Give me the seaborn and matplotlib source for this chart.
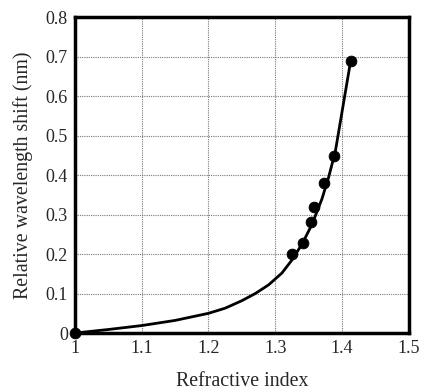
import matplotlib
matplotlib.use("Agg")
import matplotlib.pyplot as plt
import seaborn as sns
import pandas as pd

# measured points
ri_points = [1.0, 1.325, 1.342, 1.354, 1.358, 1.373, 1.388, 1.413]
shift_points = [0.0, 0.20, 0.228, 0.28, 0.318, 0.379, 0.448, 0.69]

# fitted curve
ri_curve = [1.0, 1.05, 1.10, 1.15, 1.20, 1.225, 1.25, 1.27, 1.29, 1.31, 1.325,
            1.34, 1.355, 1.37, 1.38, 1.39, 1.40, 1.413]
shift_curve = [0.0, 0.009, 0.019, 0.032, 0.05, 0.063, 0.082, 0.10, 0.122, 0.152, 0.185,
               0.225, 0.275, 0.34, 0.395, 0.46, 0.56, 0.69]

sns.set_style("white")
plt.rcParams['font.family'] = ['Liberation Serif', 'DejaVu Serif']

fig = plt.figure(figsize=(4.21, 3.9), dpi=100)
ax = fig.add_axes([0.178, 0.146, 0.793, 0.81])

curve = pd.DataFrame({"ri": ri_curve, "shift": shift_curve})
pts = pd.DataFrame({"ri": ri_points, "shift": shift_points})

sns.lineplot(data=curve, x="ri", y="shift", ax=ax, color="black", linewidth=2, sort=False)
sns.scatterplot(data=pts, x="ri", y="shift", ax=ax, color="black", s=60,
                edgecolor="black", zorder=5, clip_on=False)

ax.set_xlim(1.0, 1.5)
ax.set_ylim(0, 0.8)
ax.set_xticks([1.0, 1.1, 1.2, 1.3, 1.4, 1.5])
ax.set_xticklabels(["1", "1.1", "1.2", "1.3", "1.4", "1.5"])
ax.set_yticks([0, 0.1, 0.2, 0.3, 0.4, 0.5, 0.6, 0.7, 0.8])
ax.set_yticklabels(["0", "0.1", "0.2", "0.3", "0.4", "0.5", "0.6", "0.7", "0.8"])
ax.grid(True, color="#777777", linestyle=(0, (1, 1)), linewidth=0.8)
ax.tick_params(length=0, labelsize=13, pad=5)
for s in ax.spines.values():
    s.set_linewidth(2.5)
    s.set_color("black")

ax.set_xlabel("Refractive index", fontsize=14.3, labelpad=11)
ax.set_ylabel("Relative wavelength shift (nm)", fontsize=14.3, labelpad=9)

fig.savefig("out.png", dpi=100)
